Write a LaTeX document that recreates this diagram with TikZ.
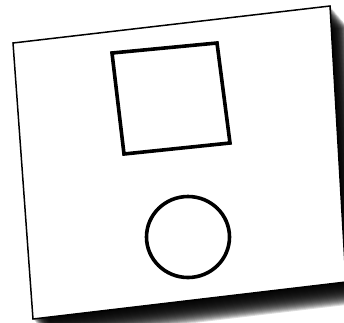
\documentclass[tikz,border=0pt]{standalone}
\begin{document}
\begin{tikzpicture}[x=1pt,y=-1pt,
  cardedge/.style={draw=black,line width=1.5pt,fill=white,line join=miter},
  thick shape/.style={draw=black,line width=3.6pt}]
\useasboundingbox (0,0) rectangle (344,322);
\fill[white] (0,0) rectangle (344,322);
% shadow: stacked shifted copies of the card
\foreach \i in {1,...,22}{
  \fill[black,opacity=0.14,shift={(\i*0.8,\i*0.95)}]
    (13,43) -- (330,6) -- (346,282) -- (33,319) -- cycle;
}
% card
\path[cardedge] (13,43) -- (330,6) -- (346,282) -- (33,319) -- cycle;
% square
\draw[thick shape,line join=miter] (112,53) -- (217,43) -- (230,143) -- (124,154) -- cycle;
% circle
\draw[thick shape] (188,237) ellipse [x radius=41.5,y radius=40.5];
\end{tikzpicture}
\end{document}
